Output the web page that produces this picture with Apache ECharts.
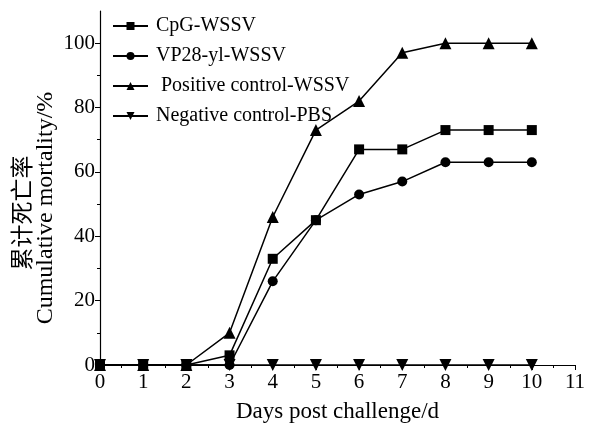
<!doctype html>
<html>
<head>
    <meta charset="UTF-8">
    <title>累计死亡率</title>
    <script src="https://cdn.jsdelivr.net/npm/echarts@6/dist/echarts.min.js"></script>
    <style>
        html, body { margin: 0; padding: 0; background: #fff; }
        #chart { width: 596px; height: 428px; }
    </style>
</head>
<body>
<div id="chart"></div>
<script>
    // 数据
    var days = [0, 1, 2, 3, 4, 5, 6, 7, 8, 9, 10];
    var seriesNames = ['CpG-WSSV', 'VP28-yl-WSSV', ' Positive control-WSSV', 'Negative control-PBS'];
    var cpg = [0, 0, 0, 3, 33, 45, 67, 67, 73, 73, 73];
    var vp28 = [0, 0, 0, 0, 26, 45, 53, 57, 63, 63, 63];
    var positive = [0, 0, 0, 10, 46, 73, 82, 97, 100, 100, 100];
    var negative = [0, 0, 0, 0, 0, 0, 0, 0, 0, 0, 0];
    var yMajor = [0, 20, 40, 60, 80, 100];
    var yMinor = [10, 30, 50, 70, 90];

    var font = 'Liberation Serif, Noto Sans CJK SC, serif';

    function pairs(vals) {
        return days.map(function (d, i) { return [d, vals[i]]; });
    }

    function mk(name, vals, symbol, size, rotate) {
        return {
            name: name,
            type: 'line',
            data: pairs(vals),
            symbol: symbol,
            symbolSize: size,
            symbolRotate: rotate || 0,
            showAllSymbol: true,
            lineStyle: { color: '#000', width: 1.5 },
            itemStyle: { color: '#000' },
            animation: false
        };
    }

    var myChart = echarts.init(document.getElementById('chart'));
    var option = {
        backgroundColor: '#fff',
        grid: { left: 100, right: 21, top: 11, bottom: 61 },
        legend: {
            orient: 'vertical',
            left: 107,
            top: 11,
            itemWidth: 35,
            itemHeight: 10,
            itemGap: 10,
            textStyle: { fontFamily: font, fontSize: 20, color: '#000', padding: [0, 0, 0, 3] },
            data: seriesNames
        },
        xAxis: {
            type: 'value',
            min: 0,
            max: 11,
            interval: 1,
            name: 'Days post challenge/d',
            nameLocation: 'middle',
            nameGap: 35,
            nameTextStyle: { fontFamily: font, fontSize: 23, color: '#000' },
            axisLine: { lineStyle: { color: '#000', width: 1.2 } },
            axisTick: { length: 5, lineStyle: { color: '#000' } },
            minorTick: { show: true, splitNumber: 2, length: 3, lineStyle: { color: '#000' } },
            axisLabel: { fontFamily: font, fontSize: 21, color: '#000', margin: 7 },
            splitLine: { show: false }
        },
        yAxis: [{
            type: 'value',
            min: 0,
            max: 110,
            axisLine: { show: true, lineStyle: { color: '#000', width: 1.2 } },
            axisTick: { show: true, length: 5, customValues: yMajor, lineStyle: { color: '#000' } },
            axisLabel: { fontFamily: font, fontSize: 21, color: '#000', margin: 5, customValues: yMajor },
            splitLine: { show: false }
        }, {
            type: 'value',
            min: 0,
            max: 110,
            position: 'left',
            axisLine: { show: false },
            axisTick: { show: true, length: 3, customValues: yMinor, lineStyle: { color: '#000' } },
            axisLabel: { show: false, customValues: yMinor },
            splitLine: { show: false }
        }],
        graphic: [{
            type: 'text',
            x: 21, y: 213,
            rotation: Math.PI / 2,
            style: {
                text: '累计死亡率',
                font: '23px "Noto Sans CJK SC", serif',
                fill: '#000',
                align: 'center',
                verticalAlign: 'middle'
            }
        }, {
            type: 'text',
            x: 46, y: 208,
            rotation: Math.PI / 2,
            style: {
                text: 'Cumulative mortality/%',
                font: '24px "Liberation Serif", serif',
                fill: '#000',
                align: 'center',
                verticalAlign: 'middle'
            }
        }],
        series: [
            mk(seriesNames[0], cpg, 'rect', 10),
            mk(seriesNames[1], vp28, 'circle', 10),
            mk(seriesNames[2], positive, 'triangle', 12),
            mk(seriesNames[3], negative, 'triangle', 12, 180)
        ]
    };
    myChart.setOption(option);
</script>
</body>
</html>
